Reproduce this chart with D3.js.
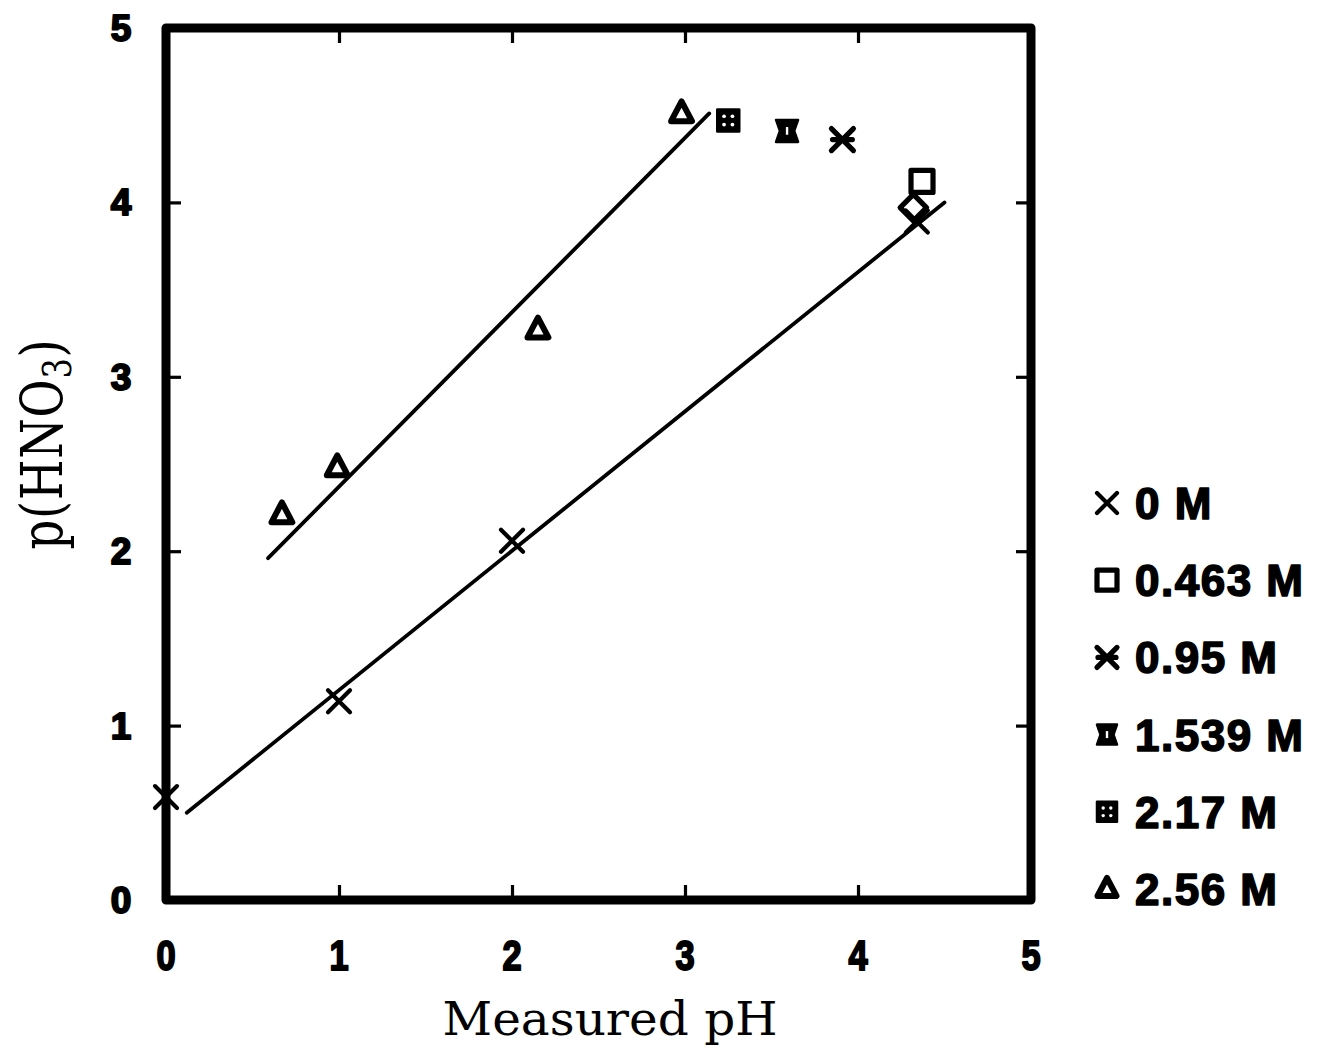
<!DOCTYPE html>
<html>
<head>
<meta charset="utf-8">
<script src="https://cdn.jsdelivr.net/npm/d3@7"></script>
<style>
  html, body { margin: 0; padding: 0; background: #fff; }
  svg { display: block; }
</style>
</head>
<body>
<svg id="chart" width="1321" height="1050"></svg>
<script>
// Axis ticks
const xTicks = [0, 1, 2, 3, 4, 5];
const yTicks = [0, 1, 2, 3, 4, 5];

// Measured pH vs p(HNO3), one array per nitrate concentration
const pts0M    = [[0.00, 0.59], [1.00, 1.14], [2.00, 2.06], [4.34, 3.89]];
const pts0463M = [[4.37, 4.12]];
const ptsDiamond = [[4.32, 3.97]];
const pts095M  = [[3.91, 4.36]];
const pts1539M = [[3.59, 4.41]];
const pts217M  = [[3.25, 4.47]];
const pts256M  = [[0.67, 2.21], [0.99, 2.48], [2.15, 3.27], [2.98, 4.51]];

// Fitted lines (end points)
const fitUpper = [[0.59, 1.96], [3.14, 4.51]];
const fitLower = [[0.12, 0.50], [4.50, 4.00]];

// Legend entries
const legendLabels = ["0 M", "0.463 M", "0.95 M", "1.539 M", "2.17 M", "2.56 M"];
const legendShapes = ["cross", "square", "star", "hourglass", "dotsquare", "triangle"];

const svg = d3.select("#chart");
const x = d3.scaleLinear().domain([0, 5]).range([166, 1031]);
const y = d3.scaleLinear().domain([0, 5]).range([900, 28]);

// Marker outlines, centred on 0,0
function markerPath(shape, s) {
  const p = d3.path();
  if (shape === "cross") {
    p.moveTo(-s, -s); p.lineTo(s, s); p.moveTo(s, -s); p.lineTo(-s, s);
  } else if (shape === "square") {
    p.rect(-s, -s, 2 * s, 2 * s);
  } else if (shape === "diamond") {
    p.moveTo(0, -s * 1.2); p.lineTo(s * 1.2, 0); p.lineTo(0, s * 1.2); p.lineTo(-s * 1.2, 0); p.closePath();
  } else if (shape === "star") {
    p.moveTo(-s, -s); p.lineTo(s, s); p.moveTo(s, -s); p.lineTo(-s, s);
    p.moveTo(-s * 0.9, 0); p.lineTo(s * 0.9, 0);
  } else if (shape === "triangle") {
    p.moveTo(0, -s * 1.1); p.lineTo(s * 0.95, s * 0.7); p.lineTo(-s * 0.95, s * 0.7); p.closePath();
  } else if (shape === "hourglass") {
    p.moveTo(-s, -s); p.lineTo(s, -s); p.lineTo(s * 0.65, 0); p.lineTo(s, s);
    p.lineTo(-s, s); p.lineTo(-s * 0.65, 0); p.closePath();
  } else if (shape === "dotsquare") {
    p.rect(-s, -s, 2 * s, 2 * s);
  }
  return p.toString();
}

function drawMarker(g, shape, s) {
  if (shape === "hourglass") {
    g.append("path").attr("d", markerPath(shape, s)).attr("fill", "#000")
      .attr("stroke", "#000").attr("stroke-width", 2.5).attr("stroke-linejoin", "round");
    g.append("line").attr("x1", 0).attr("x2", 0).attr("y1", -s * 0.35).attr("y2", s * 0.35)
      .attr("stroke", "#fff").attr("stroke-width", 2.4);
  } else if (shape === "dotsquare") {
    g.append("path").attr("d", markerPath(shape, s)).attr("fill", "#000")
      .attr("stroke", "#000").attr("stroke-width", 2.5).attr("stroke-linejoin", "round");
    [[-0.38, -0.38], [0.38, -0.38], [-0.38, 0.38], [0.38, 0.38]].forEach(([dx, dy]) => {
      g.append("circle").attr("cx", dx * s).attr("cy", dy * s).attr("r", s * 0.17).attr("fill", "#fff");
    });
  } else {
    const w = shape === "cross" ? 4.2 : (shape === "triangle" ? 6 : 5.2);
    g.append("path").attr("d", markerPath(shape, s)).attr("fill", "none")
      .attr("stroke", "#000").attr("stroke-width", w)
      .attr("stroke-linejoin", "round").attr("stroke-linecap", "round");
  }
}

// Fit lines
const line = d3.line().x(d => x(d[0])).y(d => y(d[1]));
[fitUpper, fitLower].forEach(f => {
  svg.append("path").attr("d", line(f)).attr("fill", "none")
    .attr("stroke", "#000").attr("stroke-width", 3.8).attr("stroke-linecap", "round");
});

// Frame
svg.append("rect")
  .attr("x", x(0)).attr("y", y(5))
  .attr("width", x(5) - x(0)).attr("height", y(0) - y(5))
  .attr("fill", "none").attr("stroke", "#000").attr("stroke-width", 9)
  .attr("stroke-linejoin", "round");

// Inward ticks on all four sides
const tickLen = 15;
const inner = xTicks.filter(t => t > 0 && t < 5);
const axB = d3.axisBottom(x).tickValues(inner).tickSize(-tickLen).tickFormat("");
const axT = d3.axisTop(x).tickValues(inner).tickSize(-tickLen).tickFormat("");
const axL = d3.axisLeft(y).tickValues(yTicks.filter(t => t > 0 && t < 5)).tickSize(-tickLen).tickFormat("");
const axR = d3.axisRight(y).tickValues(yTicks.filter(t => t > 0 && t < 5)).tickSize(-tickLen).tickFormat("");
[[axB, `translate(0,${y(0)})`], [axT, `translate(0,${y(5)})`],
 [axL, `translate(${x(0)},0)`], [axR, `translate(${x(5)},0)`]].forEach(([ax, tr]) => {
  const g = svg.append("g").attr("transform", tr).call(ax);
  g.select(".domain").remove();
  g.selectAll(".tick line").attr("stroke", "#000").attr("stroke-width", 3.2);
});

// Tick labels (heavy, x labels condensed)
svg.append("g").selectAll("text").data(xTicks).join("text")
  .attr("transform", d => `translate(${x(d)},970) scale(0.82,1)`)
  .attr("text-anchor", "middle")
  .attr("font-family", "'Liberation Sans', Arial, sans-serif")
  .attr("font-weight", "bold").attr("font-size", 42)
  .attr("stroke", "#000").attr("stroke-width", 2).attr("stroke-linejoin", "round")
  .text(d => d);

svg.append("g").selectAll("text").data(yTicks).join("text")
  .attr("x", 121).attr("y", d => y(d) + 13)
  .attr("text-anchor", "middle")
  .attr("font-family", "'Liberation Sans', Arial, sans-serif")
  .attr("font-weight", "bold").attr("font-size", 37)
  .attr("stroke", "#000").attr("stroke-width", 2).attr("stroke-linejoin", "round")
  .text(d => d);

// Axis titles
svg.append("text")
  .attr("x", 610).attr("y", 1035)
  .attr("text-anchor", "middle")
  .attr("font-family", "'DejaVu Serif', 'Liberation Serif', serif")
  .attr("font-size", 46)
  .attr("textLength", 335).attr("lengthAdjust", "spacingAndGlyphs")
  .text("Measured pH");

const yTitle = svg.append("text")
  .attr("transform", "translate(62,444) rotate(-90) scale(0.8,1)")
  .attr("text-anchor", "middle")
  .attr("font-family", "'DejaVu Serif', 'Liberation Serif', serif")
  .attr("font-size", 58)
  .attr("letter-spacing", 1);
yTitle.append("tspan").text("p(HNO");
yTitle.append("tspan").attr("font-size", 40).attr("dy", 9).text("3");
yTitle.append("tspan").attr("dy", -9).text(")");

// Data markers
const series = [
  [pts0M, "cross"], [pts0463M, "square"], [ptsDiamond, "diamond"], [pts095M, "star"],
  [pts1539M, "hourglass"], [pts217M, "dotsquare"], [pts256M, "triangle"]
];
series.forEach(([pts, shape]) => {
  pts.forEach(d => {
    const g = svg.append("g").attr("transform", `translate(${x(d[0])},${y(d[1])})`);
    drawMarker(g, shape, 11);
  });
});

// Legend
const legendY = d3.scalePoint().domain(legendLabels).range([503, 889]);
legendLabels.forEach((lab, i) => {
  const cy = legendY(lab);
  const g = svg.append("g").attr("transform", `translate(1107,${cy})`);
  drawMarker(g, legendShapes[i], 10);
  svg.append("text")
    .attr("x", 1135).attr("y", cy + 16)
    .attr("font-family", "'Liberation Sans', Arial, sans-serif")
    .attr("font-weight", "bold").attr("font-size", 44)
    .attr("letter-spacing", 1.5)
    .attr("stroke", "#000").attr("stroke-width", 1.6).attr("stroke-linejoin", "round")
    .text(lab);
});
</script>
</body>
</html>
